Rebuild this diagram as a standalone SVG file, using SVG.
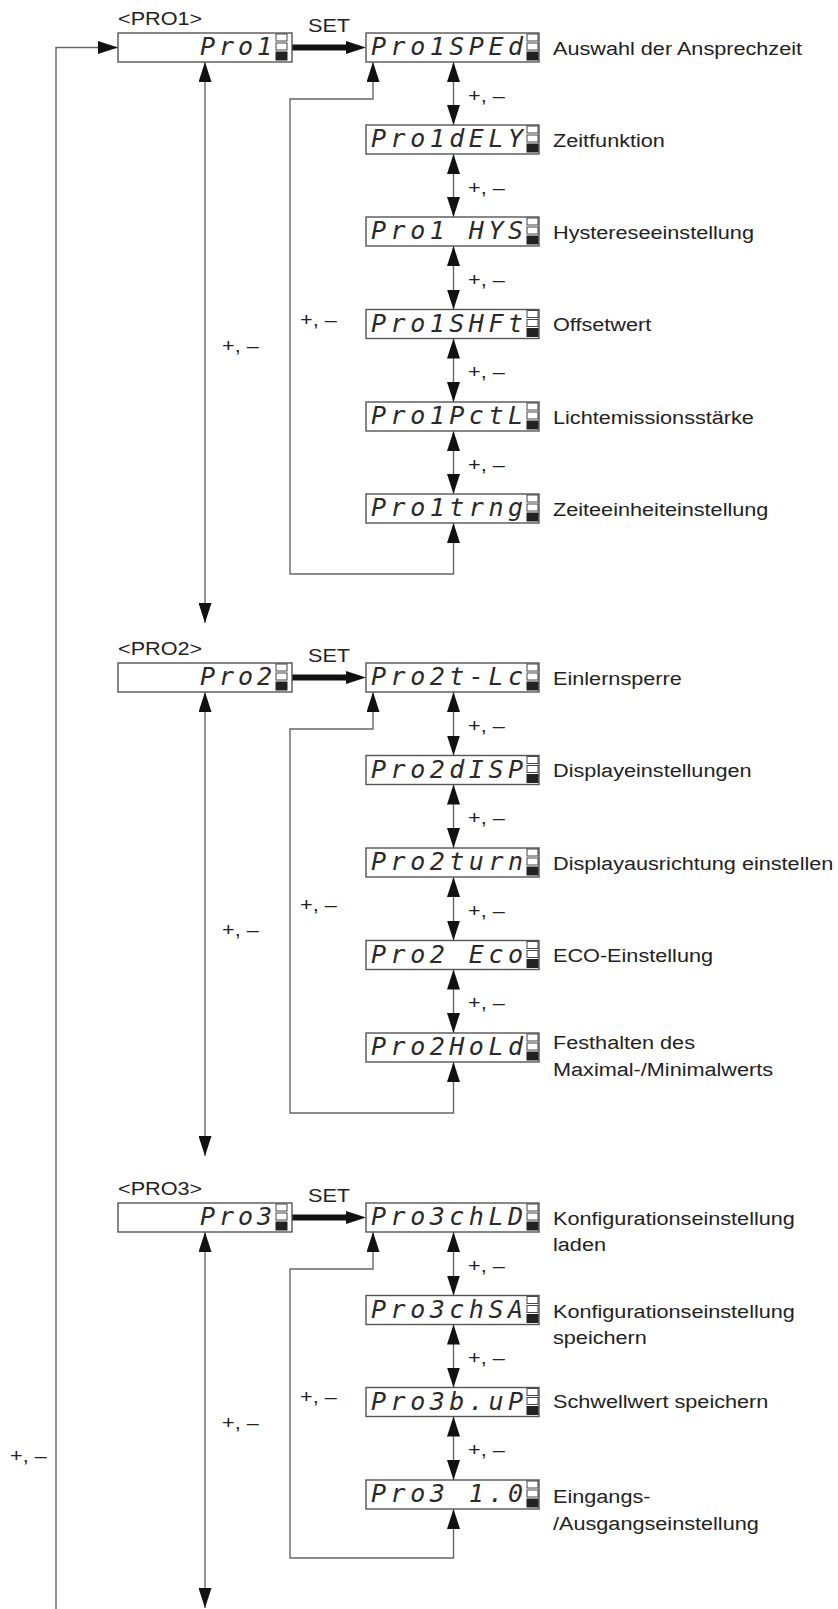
<svg xmlns="http://www.w3.org/2000/svg" xmlns:xlink="http://www.w3.org/1999/xlink" width="838" height="1609" viewBox="0 0 838 1609">
<style>
.bg{fill:#fff}
.box{fill:#fff;stroke:#555;stroke-width:1.4}
.seg{font-family:"DejaVu Sans Mono",monospace;font-style:oblique;font-size:25px;fill:#2a2a2a}
.t{font-family:"Liberation Sans",Arial,sans-serif;font-size:19px;fill:#222}
.ln{fill:none;stroke:#666;stroke-width:1.4}
.thick{fill:none;stroke:#111;stroke-width:6}
.cell{fill:#fff;stroke:#444;stroke-width:1}
.cellf{fill:#222;stroke:#222;stroke-width:1}
</style>
<defs>
<marker id="ah" markerUnits="userSpaceOnUse" viewBox="0 0 20 13" refX="20" refY="6.5" markerWidth="20" markerHeight="13" orient="auto-start-reverse">
<path d="M0,0 L20,6.5 L0,13 z" fill="#111"/>
</marker>
<marker id="ahs" markerUnits="userSpaceOnUse" viewBox="0 0 20 13" refX="1" refY="6.5" markerWidth="20" markerHeight="13" orient="auto">
<path d="M0,0 L20,6.5 L0,13 z" fill="#111"/>
</marker>
<g id="ind">
<rect class="cell" x="0" y="1" width="11" height="7"/>
<rect class="cell" x="0" y="10" width="11" height="7"/>
<rect class="cellf" x="0" y="19" width="11" height="8"/>
</g>
</defs>
<rect class="bg" x="0" y="0" width="838" height="1609"/>

<g id="connectors">
<path class="ln" d="M56,1609 V47.5 H118" marker-end="url(#ah)"/>
<text class="t" transform="translate(10,1462) scale(1.14,1)">+, –</text>
<path class="ln" d="M205,62 V623" marker-start="url(#ah)" marker-end="url(#ah)"/>
<path class="ln" d="M205,692 V1156" marker-start="url(#ah)" marker-end="url(#ah)"/>
<path class="ln" d="M205,1232 V1608" marker-start="url(#ah)" marker-end="url(#ah)"/>
<text class="t" transform="translate(222,352) scale(1.14,1)">+, –</text>
<text class="t" transform="translate(222,936) scale(1.14,1)">+, –</text>
<text class="t" transform="translate(222,1429) scale(1.14,1)">+, –</text>
<path class="thick" d="M292,47.5 H347" marker-end="url(#ahs)"/>
<path class="thick" d="M292,677.5 H347" marker-end="url(#ahs)"/>
<path class="thick" d="M292,1217.5 H347" marker-end="url(#ahs)"/>
<path class="ln" d="M373,62 V99 H290 V574 H453.5 V523" marker-start="url(#ah)" marker-end="url(#ah)"/>
<path class="ln" d="M373,692 V729 H290 V1113 H453.5 V1062" marker-start="url(#ah)" marker-end="url(#ah)"/>
<path class="ln" d="M373,1232 V1269 H290 V1558 H453.5 V1509" marker-start="url(#ah)" marker-end="url(#ah)"/>
<text class="t" transform="translate(300,326) scale(1.14,1)">+, –</text>
<text class="t" transform="translate(300,911) scale(1.14,1)">+, –</text>
<text class="t" transform="translate(300,1403) scale(1.14,1)">+, –</text>
<path class="ln" d="M453.5,62 V125" marker-start="url(#ah)" marker-end="url(#ah)"/>
<path class="ln" d="M453.5,154 V217" marker-start="url(#ah)" marker-end="url(#ah)"/>
<path class="ln" d="M453.5,246 V309.5" marker-start="url(#ah)" marker-end="url(#ah)"/>
<path class="ln" d="M453.5,338.5 V402" marker-start="url(#ah)" marker-end="url(#ah)"/>
<path class="ln" d="M453.5,431 V494" marker-start="url(#ah)" marker-end="url(#ah)"/>
<text class="t" transform="translate(468,101.5) scale(1.14,1)">+, –</text>
<text class="t" transform="translate(468,193.5) scale(1.14,1)">+, –</text>
<text class="t" transform="translate(468,286) scale(1.14,1)">+, –</text>
<text class="t" transform="translate(468,378) scale(1.14,1)">+, –</text>
<text class="t" transform="translate(468,470.5) scale(1.14,1)">+, –</text>
<path class="ln" d="M453.5,692 V755.5" marker-start="url(#ah)" marker-end="url(#ah)"/>
<path class="ln" d="M453.5,784.5 V848" marker-start="url(#ah)" marker-end="url(#ah)"/>
<path class="ln" d="M453.5,877 V940.5" marker-start="url(#ah)" marker-end="url(#ah)"/>
<path class="ln" d="M453.5,969.5 V1033" marker-start="url(#ah)" marker-end="url(#ah)"/>
<text class="t" transform="translate(468,732) scale(1.14,1)">+, –</text>
<text class="t" transform="translate(468,824) scale(1.14,1)">+, –</text>
<text class="t" transform="translate(468,917) scale(1.14,1)">+, –</text>
<text class="t" transform="translate(468,1009) scale(1.14,1)">+, –</text>
<path class="ln" d="M453.5,1232 V1295.5" marker-start="url(#ah)" marker-end="url(#ah)"/>
<path class="ln" d="M453.5,1324.5 V1387.5" marker-start="url(#ah)" marker-end="url(#ah)"/>
<path class="ln" d="M453.5,1416.5 V1480" marker-start="url(#ah)" marker-end="url(#ah)"/>
<text class="t" transform="translate(468,1272) scale(1.14,1)">+, –</text>
<text class="t" transform="translate(468,1364) scale(1.14,1)">+, –</text>
<text class="t" transform="translate(468,1456) scale(1.14,1)">+, –</text>
</g>

<g id="pro1">
<text class="t" transform="translate(118,25) scale(1.14,1)">&lt;PRO1&gt;</text>
<text class="t" transform="translate(308,32) scale(1.14,1)">SET</text>
<rect class="box" x="118" y="33" width="174" height="29"/>
<text class="seg" x="200" y="55" textLength="72">Pro1</text>
<use xlink:href="#ind" x="276" y="33"/>
</g>
<g id="pro1-sped">
<rect class="box" x="366" y="33" width="173" height="29"/>
<text class="seg" x="371" y="55" textLength="152">Pro1SPEd</text>
<use xlink:href="#ind" x="527" y="33"/>
<text class="t" transform="translate(553,54.5) scale(1.14,1)">Auswahl der Ansprechzeit</text>
</g>
<g id="pro1-dely">
<rect class="box" x="366" y="125" width="173" height="29"/>
<text class="seg" x="371" y="147" textLength="152">Pro1dELY</text>
<use xlink:href="#ind" x="527" y="125"/>
<text class="t" transform="translate(553,146.5) scale(1.14,1)">Zeitfunktion</text>
</g>
<g id="pro1-hys">
<rect class="box" x="366" y="217" width="173" height="29"/>
<text class="seg" x="371" y="239" textLength="152">Pro1 HYS</text>
<use xlink:href="#ind" x="527" y="217"/>
<text class="t" transform="translate(553,238.5) scale(1.14,1)">Hystereseeinstellung</text>
</g>
<g id="pro1-shft">
<rect class="box" x="366" y="309.5" width="173" height="29"/>
<text class="seg" x="371" y="331.5" textLength="152">Pro1SHFt</text>
<use xlink:href="#ind" x="527" y="309.5"/>
<text class="t" transform="translate(553,331) scale(1.14,1)">Offsetwert</text>
</g>
<g id="pro1-pctl">
<rect class="box" x="366" y="402" width="173" height="29"/>
<text class="seg" x="371" y="424" textLength="152">Pro1PctL</text>
<use xlink:href="#ind" x="527" y="402"/>
<text class="t" transform="translate(553,423.5) scale(1.14,1)">Lichtemissionsstärke</text>
</g>
<g id="pro1-trng">
<rect class="box" x="366" y="494" width="173" height="29"/>
<text class="seg" x="371" y="516" textLength="152">Pro1trng</text>
<use xlink:href="#ind" x="527" y="494"/>
<text class="t" transform="translate(553,515.5) scale(1.14,1)">Zeiteeinheiteinstellung</text>
</g>

<g id="pro2">
<text class="t" transform="translate(118,655) scale(1.14,1)">&lt;PRO2&gt;</text>
<text class="t" transform="translate(308,662) scale(1.14,1)">SET</text>
<rect class="box" x="118" y="663" width="174" height="29"/>
<text class="seg" x="200" y="685" textLength="72">Pro2</text>
<use xlink:href="#ind" x="276" y="663"/>
</g>
<g id="pro2-tlc">
<rect class="box" x="366" y="663" width="173" height="29"/>
<text class="seg" x="371" y="685" textLength="152">Pro2t-Lc</text>
<use xlink:href="#ind" x="527" y="663"/>
<text class="t" transform="translate(553,684.5) scale(1.14,1)">Einlernsperre</text>
</g>
<g id="pro2-disp">
<rect class="box" x="366" y="755.5" width="173" height="29"/>
<text class="seg" x="371" y="777.5" textLength="152">Pro2dISP</text>
<use xlink:href="#ind" x="527" y="755.5"/>
<text class="t" transform="translate(553,777) scale(1.14,1)">Displayeinstellungen</text>
</g>
<g id="pro2-turn">
<rect class="box" x="366" y="848" width="173" height="29"/>
<text class="seg" x="371" y="870" textLength="152">Pro2turn</text>
<use xlink:href="#ind" x="527" y="848"/>
<text class="t" transform="translate(553,869.5) scale(1.14,1)">Displayausrichtung einstellen</text>
</g>
<g id="pro2-eco">
<rect class="box" x="366" y="940.5" width="173" height="29"/>
<text class="seg" x="371" y="962.5" textLength="152">Pro2 Eco</text>
<use xlink:href="#ind" x="527" y="940.5"/>
<text class="t" transform="translate(553,962) scale(1.14,1)">ECO-Einstellung</text>
</g>
<g id="pro2-hold">
<rect class="box" x="366" y="1033" width="173" height="29"/>
<text class="seg" x="371" y="1055" textLength="152">Pro2HoLd</text>
<use xlink:href="#ind" x="527" y="1033"/>
<text class="t" transform="translate(553,1049) scale(1.14,1)">Festhalten des</text>
<text class="t" transform="translate(553,1076) scale(1.14,1)">Maximal-/Minimalwerts</text>
</g>

<g id="pro3">
<text class="t" transform="translate(118,1195) scale(1.14,1)">&lt;PRO3&gt;</text>
<text class="t" transform="translate(308,1202) scale(1.14,1)">SET</text>
<rect class="box" x="118" y="1203" width="174" height="29"/>
<text class="seg" x="200" y="1225" textLength="72">Pro3</text>
<use xlink:href="#ind" x="276" y="1203"/>
</g>
<g id="pro3-chld">
<rect class="box" x="366" y="1203" width="173" height="29"/>
<text class="seg" x="371" y="1225" textLength="152">Pro3chLD</text>
<use xlink:href="#ind" x="527" y="1203"/>
<text class="t" transform="translate(553,1225) scale(1.14,1)">Konfigurationseinstellung</text>
<text class="t" transform="translate(553,1251) scale(1.14,1)">laden</text>
</g>
<g id="pro3-chsa">
<rect class="box" x="366" y="1295.5" width="173" height="29"/>
<text class="seg" x="371" y="1317.5" textLength="152">Pro3chSA</text>
<use xlink:href="#ind" x="527" y="1295.5"/>
<text class="t" transform="translate(553,1318) scale(1.14,1)">Konfigurationseinstellung</text>
<text class="t" transform="translate(553,1344) scale(1.14,1)">speichern</text>
</g>
<g id="pro3-bup">
<rect class="box" x="366" y="1387.5" width="173" height="29"/>
<text class="seg" x="371" y="1409.5" textLength="152">Pro3b.uP</text>
<use xlink:href="#ind" x="527" y="1387.5"/>
<text class="t" transform="translate(553,1408) scale(1.14,1)">Schwellwert speichern</text>
</g>
<g id="pro3-io">
<rect class="box" x="366" y="1480" width="173" height="29"/>
<text class="seg" x="371" y="1502" textLength="152">Pro3 1.0</text>
<use xlink:href="#ind" x="527" y="1480"/>
<text class="t" transform="translate(553,1503) scale(1.14,1)">Eingangs-</text>
<text class="t" transform="translate(553,1530) scale(1.14,1)">/Ausgangseinstellung</text>
</g>
</svg>
